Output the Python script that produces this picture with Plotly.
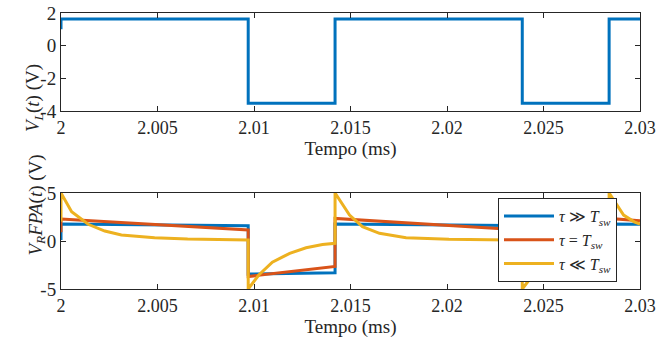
import plotly.graph_objects as go

# ---------------- data ----------------
# Top panel: inductor voltage V_L(t)
t_vl = [2.0, 2.0, 2.0097, 2.0097, 2.0142, 2.0142, 2.0239, 2.0239, 2.0284, 2.0284, 2.03]
v_vl = [1.0, 1.63, 1.63, -3.53, -3.53, 1.63, 1.63, -3.53, -3.53, 1.63, 1.63]

# Bottom panel: V_R FPA(t) for three time constants
t_blue = [2.0, 2.0, 2.0097, 2.0097, 2.0142, 2.0142, 2.0239, 2.0239, 2.0284, 2.0284, 2.03]
v_blue = [0.1, 1.77, 1.6, -3.45, -3.3, 1.77, 1.6, -3.45, -3.3, 1.77, 1.75]

t_orange = [2.0, 2.0, 2.0097, 2.0097, 2.0142, 2.0142, 2.0239, 2.0239, 2.0284, 2.0284, 2.03]
v_orange = [0.9, 2.3, 1.15, -3.7, -2.65, 2.35, 1.15, -3.7, -2.65, 2.35, 2.1]

t_yellow = [2.0, 2.0, 2.00055, 2.00141, 2.00227, 2.00313, 2.00485, 2.00656, 2.0097,
            2.0097, 2.01025, 2.01095, 2.01185, 2.0127, 2.01355, 2.0142,
            2.0142, 2.01495, 2.01562, 2.0165, 2.01788, 2.0201, 2.0239,
            2.0239, 2.02445, 2.02515, 2.02605, 2.0269, 2.02775, 2.0284,
            2.0284, 2.02915, 2.0297, 2.03]
v_yellow = [2.0, 5.0, 3.05, 1.74, 1.04, 0.62, 0.34, 0.2, 0.1,
            -5.0, -3.54, -2.2, -1.28, -0.7, -0.36, -0.24,
            5.0, 2.7, 1.49, 0.8, 0.34, 0.18, 0.1,
            -5.0, -3.54, -2.2, -1.28, -0.7, -0.36, -0.24,
            5.0, 2.7, 2.0, 1.75]

x_ticks = [2.0, 2.005, 2.01, 2.015, 2.02, 2.025, 2.03]
x_tick_text = ["2", "2.005", "2.01", "2.015", "2.02", "2.025", "2.03"]
top_y_ticks = [-4, -2, 0, 2]
top_y_text = ["-4", "-2", "0", "2"]
bot_y_ticks = [-5, 0, 5]
bot_y_text = ["-5", "0", "5"]

legend_names = ["<i>τ</i> ≫ <i>T</i><sub><i>sw</i></sub>",
                "<i>τ</i> = <i>T</i><sub><i>sw</i></sub>",
                "<i>τ</i> ≪ <i>T</i><sub><i>sw</i></sub>"]

BLUE, ORANGE, YELLOW = "#0072BD", "#D95319", "#EDB120"
AX = "#262626"
FONT = "Liberation Serif, Times New Roman, serif"
W, H = 657, 352
ML, MR, MT, MB = 61, 17, 13, 63
PW, PH = W - ML - MR, H - MT - MB


def px_x(px):
    return (px - ML) / PW


def px_y(py):
    return 1 - (py - MT) / PH


fig = go.Figure()
fig.add_trace(go.Scatter(x=t_vl, y=v_vl, mode="lines", line=dict(color=BLUE, width=3),
                         xaxis="x", yaxis="y", showlegend=False))
fig.add_trace(go.Scatter(x=t_blue, y=v_blue, mode="lines", line=dict(color=BLUE, width=3),
                         xaxis="x2", yaxis="y2", name=legend_names[0]))
fig.add_trace(go.Scatter(x=t_orange, y=v_orange, mode="lines", line=dict(color=ORANGE, width=3),
                         xaxis="x2", yaxis="y2", name=legend_names[1]))
fig.add_trace(go.Scatter(x=t_yellow, y=v_yellow, mode="lines", line=dict(color=YELLOW, width=3),
                         xaxis="x2", yaxis="y2", name=legend_names[2]))

common_x = dict(range=[2.0, 2.0300001], tickvals=x_ticks, ticktext=x_tick_text,
                ticks="inside", ticklen=5, tickcolor=AX, showline=True, linecolor=AX,
                linewidth=1, mirror="ticks", showgrid=False, zeroline=False, automargin=False,
                ticklabeloverflow="allow",
                tickfont=dict(family=FONT, size=18, color=AX), domain=[0, 1],
                title=dict(text="Tempo (ms)", font=dict(family=FONT, size=19, color=AX), standoff=2))
common_y = dict(ticks="inside", ticklen=5, tickcolor=AX, showline=True, linecolor=AX,
                linewidth=1, mirror="ticks", showgrid=False, zeroline=False, automargin=False,
                ticklabeloverflow="allow",
                tickfont=dict(family=FONT, size=19, color=AX))

fig.update_layout(
    width=W, height=H, margin=dict(l=ML, r=MR, t=MT, b=MB, autoexpand=False),
    paper_bgcolor="white", plot_bgcolor="white",
    xaxis=dict(**common_x, anchor="y"),
    yaxis=dict(**common_y, range=[-4, 2], tickvals=top_y_ticks, ticktext=top_y_text,
               domain=[px_y(111), px_y(13)], anchor="x"),
    xaxis2=dict(**common_x, anchor="y2"),
    yaxis2=dict(**common_y, range=[-5, 5], tickvals=bot_y_ticks, ticktext=bot_y_text,
                domain=[px_y(289), px_y(193)], anchor="x2"),
    legend=dict(x=px_x(498), y=px_y(198), xanchor="left", yanchor="top",
                bgcolor="white", bordercolor=AX, borderwidth=1,
                font=dict(family=FONT, size=16, color=AX), tracegroupgap=0,
                itemwidth=50),
    annotations=[
        dict(text="<i>V</i><sub><i>L</i></sub>(<i>t</i>) (V)", textangle=-90,
             x=px_x(20), y=px_y(62), xref="paper", yref="paper", showarrow=False,
             font=dict(family=FONT, size=19, color=AX)),
        dict(text="<i>V</i><sub><i>R</i></sub><i>FPA</i>(<i>t</i>) (V)", textangle=-90,
             x=px_x(22), y=px_y(258), xref="paper", yref="paper", showarrow=False,
             font=dict(family=FONT, size=19, color=AX)),
    ],
)

fig.write_html("out.html", config={"displayModeBar": False},
               post_script="document.body.style.margin='0';document.body.style.overflow='hidden';")
